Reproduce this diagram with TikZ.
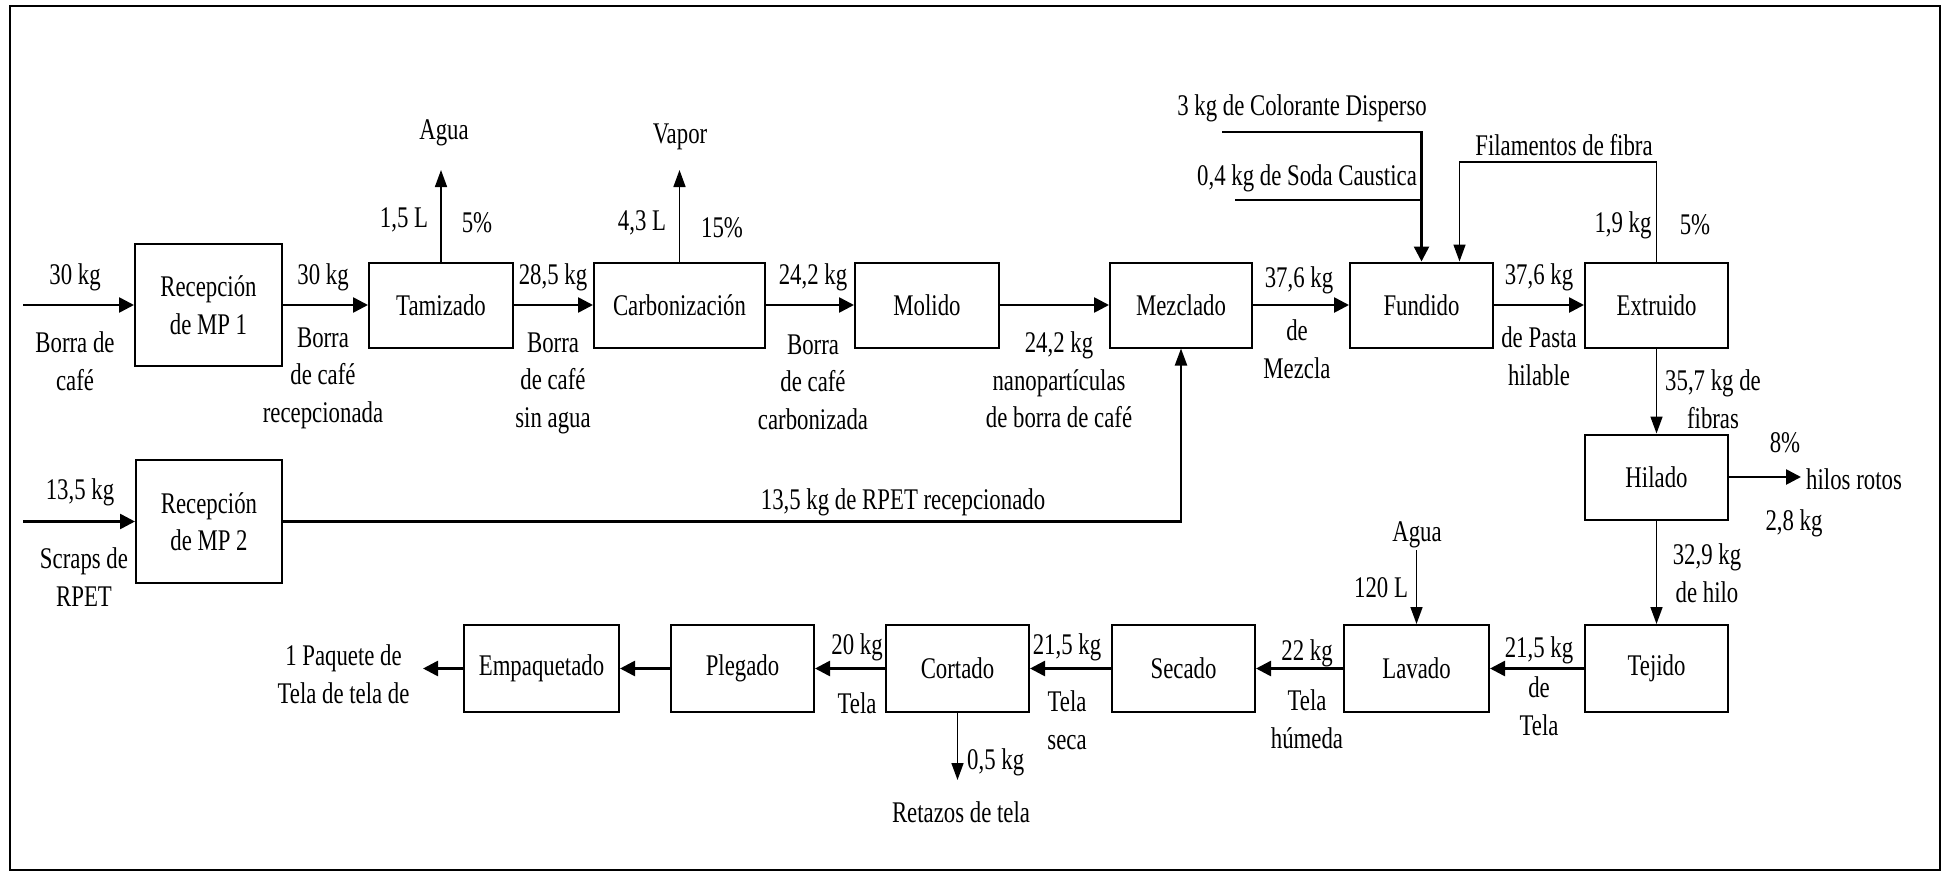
\documentclass[tikz,border=0pt]{standalone}
\usepackage{fontspec}
\setmainfont{Liberation Serif}
\usetikzlibrary{arrows.meta}
\newcommand{\nt}[1]{\scalebox{0.76}[1]{#1}}
\begin{document}
\begin{tikzpicture}[x=1pt,y=-1pt,
  font=\rmfamily\fontsize{30}{37.5}\selectfont,
  box/.style={draw,line width=2pt,minimum width=144pt,minimum height=85pt,inner sep=0pt,align=center},
  lbl/.style={inner sep=0pt,align=center},
  flow/.style={line width=2.6pt,-{Triangle[length=15pt,width=15pt]}},
  thinflow/.style={line width=1.6pt,-{Triangle[length=17pt,width=12pt]}},
  plainline/.style={line width=2pt}
]
\useasboundingbox (0,0) rectangle (1950,875);
\draw[line width=2pt] (10,6) rectangle (1940,870);

% boxes
\node[box,minimum width=147pt,minimum height=122pt] (mp1) at (208.5,305) {\nt{Recepción}\\\nt{de MP 1}};
\node[box] (tam) at (441,305) {\nt{Tamizado}};
\node[box,minimum width=171pt] (car) at (679.5,305) {\nt{Carbonización}};
\node[box] (mol) at (927,305) {\nt{Molido}};
\node[box,minimum width=142pt] (mez) at (1181,305) {\nt{Mezclado}};
\node[box,minimum width=143pt] (fun) at (1421.5,305) {\nt{Fundido}};
\node[box,minimum width=143pt] (ext) at (1656.5,305) {\nt{Extruido}};
\node[box,minimum width=143pt] (hil) at (1656.5,477) {\nt{Hilado}};
\node[box,minimum width=143pt,minimum height=87pt] (tej) at (1656.5,668.5) {\nt{Tejido}};
\node[box,minimum width=145pt,minimum height=87pt] (lav) at (1416.5,668.5) {\nt{Lavado}};
\node[box,minimum width=143pt,minimum height=87pt] (sec) at (1183.5,668.5) {\nt{Secado}};
\node[box,minimum width=143pt,minimum height=87pt] (cor) at (957.5,668.5) {\nt{Cortado}};
\node[box,minimum width=143pt,minimum height=87pt] (ple) at (742.5,668.5) {\nt{Plegado}};
\node[box,minimum width=155pt,minimum height=87pt] (emp) at (541.5,668.5) {\nt{Empaquetado}};
\node[box,minimum width=146pt,minimum height=123pt] (mp2) at (209,521.5) {\nt{Recepción}\\\nt{de MP 2}};

% free ends
\coordinate (in1) at (23,305);
\coordinate (in2) at (23,521.5);
\coordinate (agua1) at (441,170);
\coordinate (vapor) at (679.5,170);
\coordinate (col) at (1222,132);
\coordinate (soda) at (1235,200);
\coordinate (filA) at (1656.5,162);
\coordinate (filB) at (1459.5,162);
\coordinate (hr) at (1801,477);
\coordinate (agua2) at (1416.5,550);
\coordinate (ret) at (957.5,780);
\coordinate (out) at (423,668.5);
\coordinate (rpet) at (1181,521.5);

% connectors
\draw[flow] (in1) -- (mp1);
\draw[flow] (mp1) -- (tam);
\draw[flow] (tam) -- (car);
\draw[flow] (car) -- (mol);
\draw[flow] (mol) -- (mez);
\draw[flow] (mez) -- (fun);
\draw[flow] (fun) -- (ext);
\draw[thinflow] (tam.north) -- (agua1);
\draw[thinflow] (car.north) -- (vapor);
\draw[flow] (col) -| (fun.north);
\draw[plainline] (soda) -- (soda -| fun.north);
\draw[thinflow] (ext.north) -- (filA) -- (filB) -- (filB |- fun.north);
\draw[thinflow] (ext) -- (hil);
\draw[flow] (hil.east) -- (hr);
\draw[thinflow] (hil) -- (tej);
\draw[flow] (tej) -- (lav);
\draw[flow] (lav) -- (sec);
\draw[flow] (sec) -- (cor);
\draw[flow] (cor) -- (ple);
\draw[flow] (ple) -- (emp);
\draw[flow] (emp) -- (out);
\draw[thinflow] (agua2) -- (lav.north);
\draw[thinflow] (cor.south) -- (ret);
\draw[flow] (in2) -- (mp2);
\draw[line width=2.2pt,-{Triangle[length=17pt,width=12pt]}] (mp2.east) -- (rpet) -- (mez.south);

% labels
\node[lbl] (l1) at (75,277) {\nt{30 kg}};
\node[lbl] (l2) at (75,361) {\nt{Borra de}\\\nt{café}};
\node[lbl] (l3) at (323,277) {\nt{30 kg}};
\node[lbl] (l4) at (323,378) {\nt{Borra}\\\nt{de café}\\\nt{recepcionada}};
\node[lbl] (l5) at (444,133) {\nt{Agua}};
\node[lbl] (l6) at (404,220) {\nt{1,5 L}};
\node[lbl] (l7) at (477,223) {\nt{5\%}};
\node[lbl] (l8) at (553,277) {\nt{28,5 kg}};
\node[lbl] (l9) at (553,383) {\nt{Borra}\\\nt{de café}\\\nt{sin agua}};
\node[lbl] (l10) at (680,137) {\nt{Vapor}};
\node[lbl] (l11) at (642,223) {\nt{4,3 L}};
\node[lbl] (l12) at (722,228) {\nt{15\%}};
\node[lbl] (l13) at (813,277) {\nt{24,2 kg}};
\node[lbl] (l14) at (813,382) {\nt{Borra}\\\nt{de café}\\\nt{carbonizada}};
\node[lbl] (l15) at (1059,380) {\nt{24,2 kg}\\\nt{nanopartículas}\\\nt{de borra de café}};
\node[lbl] (l16) at (1299,280) {\nt{37,6 kg}};
\node[lbl] (l17) at (1297,349) {\nt{de}\\\nt{Mezcla}};
\node[lbl] (l18) at (1302,108) {\nt{3 kg de Colorante Disperso}};
\node[lbl] (l19) at (1307,178) {\nt{0,4 kg de Soda Caustica}};
\node[lbl] (l20) at (1564,145) {\nt{Filamentos de fibra}};
\node[lbl] (l21) at (1623,225) {\nt{1,9 kg}};
\node[lbl] (l22) at (1695,225) {\nt{5\%}};
\node[lbl] (l23) at (1539,277) {\nt{37,6 kg}};
\node[lbl] (l24) at (1539,356) {\nt{de Pasta}\\\nt{hilable}};
\node[lbl] (l25) at (1713,399) {\nt{35,7 kg de}\\\nt{fibras}};
\node[lbl] (l26) at (1785,443) {\nt{8\%}};
\node[lbl,anchor=west] (l27) at (1806,479) {\nt{hilos rotos}};
\node[lbl] (l28) at (1794,523) {\nt{2,8 kg}};
\node[lbl] (l29) at (1707,573) {\nt{32,9 kg}\\\nt{de hilo}};
\node[lbl] (l30) at (1539,650) {\nt{21,5 kg}};
\node[lbl] (l31) at (1539,706) {\nt{de}\\\nt{Tela}};
\node[lbl] (l32) at (1417,535) {\nt{Agua}};
\node[lbl] (l33) at (1381,588) {\nt{120 L}};
\node[lbl] (l34) at (1307,653) {\nt{22 kg}};
\node[lbl] (l35) at (1307,719) {\nt{Tela}\\\nt{húmeda}};
\node[lbl] (l36) at (1067,647) {\nt{21,5 kg}};
\node[lbl] (l37) at (1067,720) {\nt{Tela}\\\nt{seca}};
\node[lbl] (l38) at (857,647) {\nt{20 kg}};
\node[lbl] (l39) at (857,703) {\nt{Tela}};
\node[lbl,anchor=west] (l40) at (967,762) {\nt{0,5 kg}};
\node[lbl] (l41) at (961,812) {\nt{Retazos de tela}};
\node[lbl] (l42) at (343.5,674) {\nt{1 Paquete de}\\\nt{Tela de tela de}};
\node[lbl] (l43) at (80,492) {\nt{13,5 kg}};
\node[lbl] (l44) at (84,577) {\nt{Scraps de}\\\nt{RPET}};
\node[lbl] (l45) at (903,502) {\nt{13,5 kg de RPET recepcionado}};
\end{tikzpicture}
\end{document}
